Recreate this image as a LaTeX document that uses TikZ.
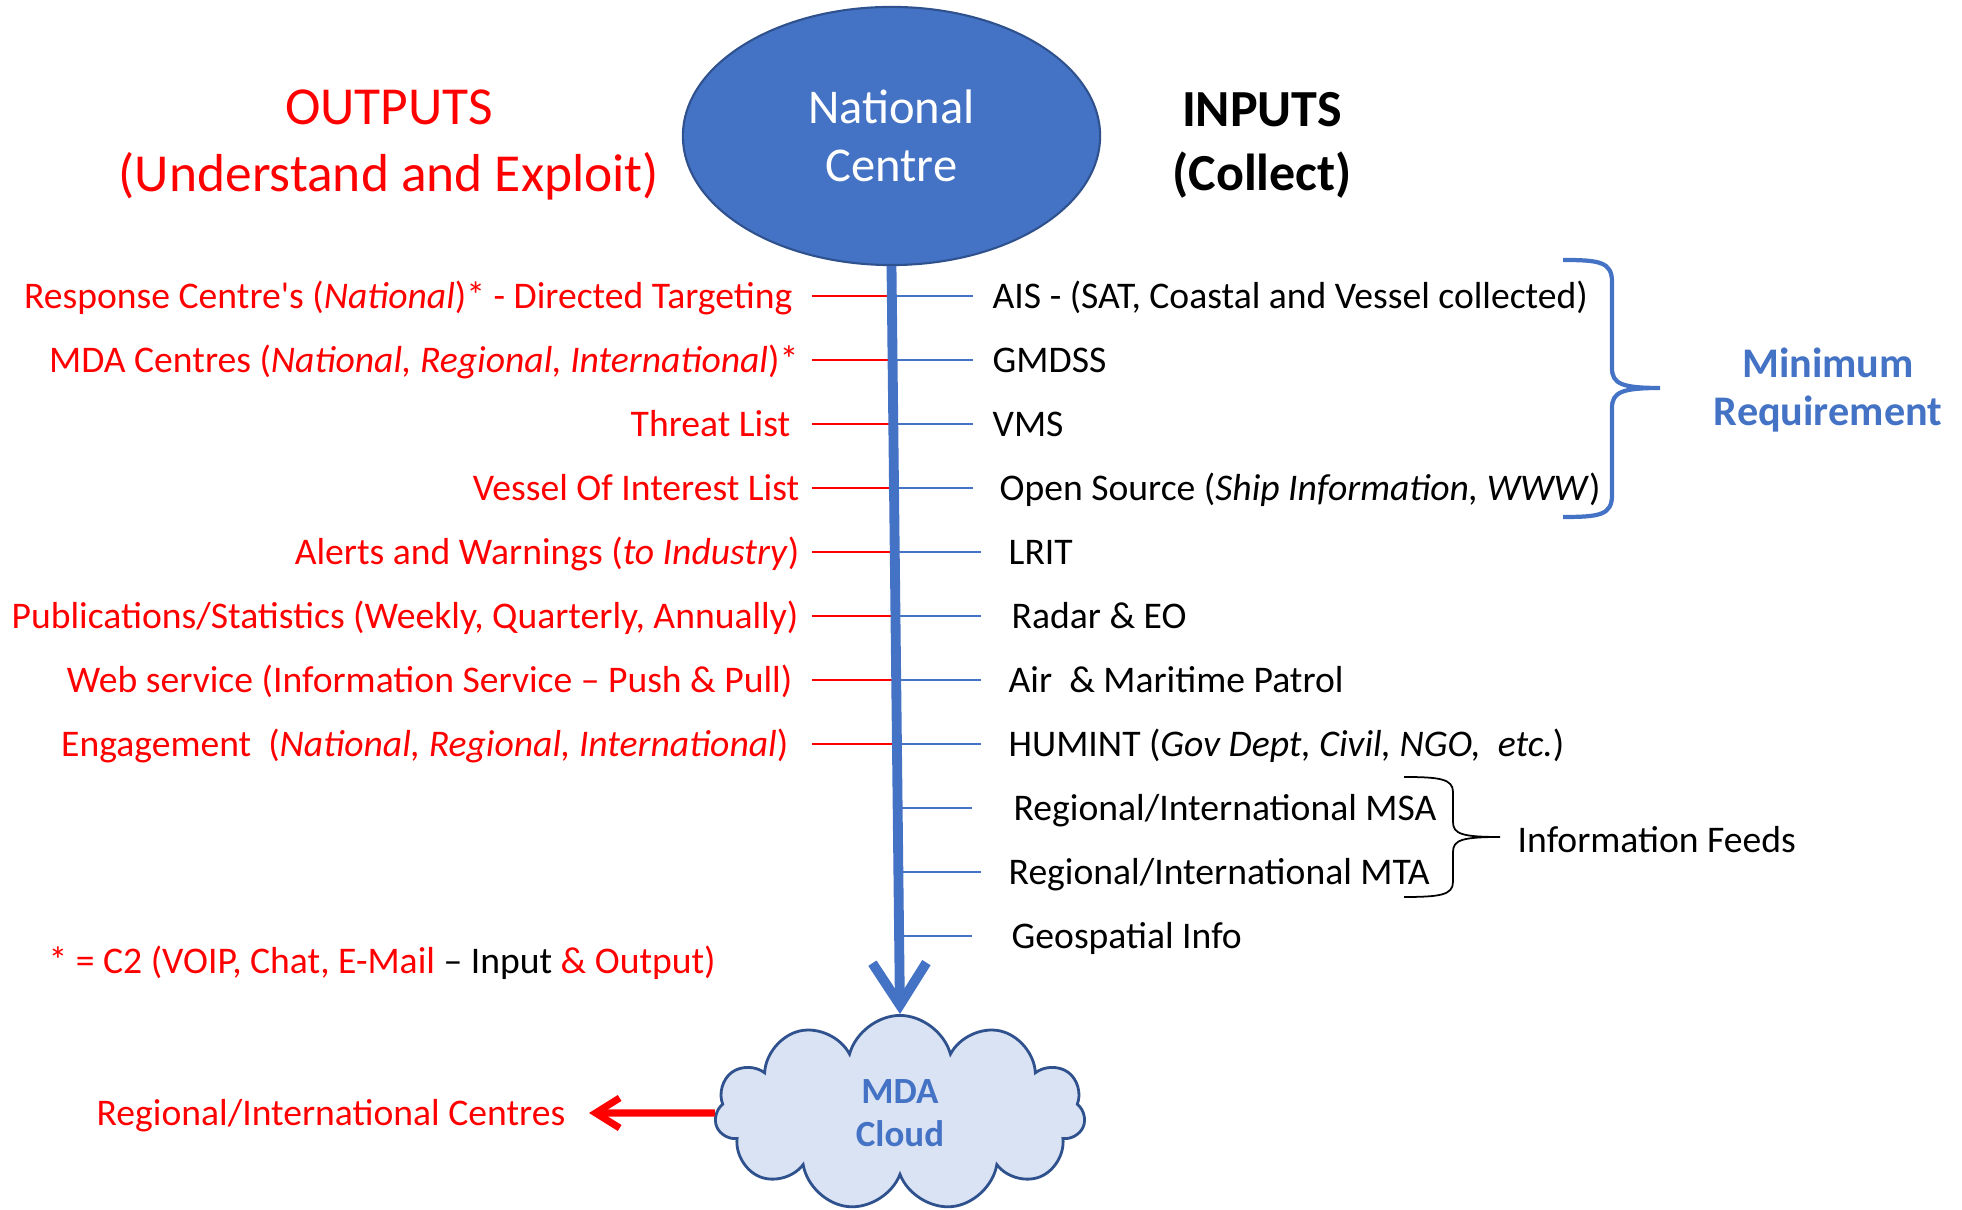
\documentclass[tikz,border=0pt]{standalone}
\usepackage{xcolor}
\usepackage{fontspec}
\setmainfont{Carlito}
\usepackage{tikz}
\usetikzlibrary{shapes.geometric,shapes.symbols,arrows.meta}
\definecolor{mdablue}{HTML}{4472C4}
\definecolor{mdadark}{HTML}{2F528F}
\definecolor{mdared}{HTML}{FF0000}
\definecolor{cloudfill}{HTML}{DAE3F3}

\begin{document}
\begin{tikzpicture}[x=0.01cm, y=-0.01cm,
    listfont/.style={font=\fontsize{10.7}{12.8}\selectfont, inner sep=0pt, text height=0.82em, text depth=0.12em},
    outtxt/.style={listfont, anchor=east, text=mdared},
    intxt/.style={listfont, anchor=west, text=black},
    redtick/.style={mdared, line width=0.5pt},
    bluetick/.style={mdablue, line width=0.6pt},
    shaft/.style={mdablue, line width=2.8pt, -{Straight Barb[length=0.42cm,width=0.54cm]}},
    redarrow/.style={mdared, line width=2pt, -{Straight Barb[length=0.24cm,width=0.3cm]}},
    centre/.style={ellipse, draw=mdadark, fill=mdablue, line width=0.6pt, minimum width=4.17cm, minimum height=2.58cm,
      text=white, align=center, font=\fontsize{13.8}{16.5}\selectfont},
    mdacloud/.style={cloud, cloud puffs=11, cloud ignores aspect, draw=mdadark, fill=cloudfill, line width=0.8pt,
      minimum width=3.7cm, minimum height=1.95cm, text=mdablue, align=center, font=\bfseries\fontsize{10.5}{12.2}\selectfont},
    bigbrace/.style={mdablue, line width=1.2pt},
    smallbrace/.style={black, line width=0.5pt}]
  \useasboundingbox (0,0) rectangle (1962,1210);

  % Headings
  \node[align=center, text=mdared, font=\fontsize{15.2}{18.8}\selectfont] (outputs) at (389,145) {OUTPUTS\\(Understand and Exploit)};
  \node[align=center, font=\bfseries\fontsize{14.8}{18.2}\selectfont] (inputs) at (1262,145) {INPUTS\\(Collect)};
  \node[centre] (nc) at (891.5,136) {National\\Centre};
  \node[mdacloud] (mda) at (900,1113) {MDA\\Cloud};

  % Ticks
  \foreach \y [count=\i] in {296,360,...,744} {
    \coordinate (r\i) at (812,\y);
    \coordinate (s\i) at (896,\y);
    \draw[redtick] (r\i) -- (s\i);
  }
  \foreach \y/\e [count=\i] in {296/973,360/973,424/973,488/973,552/981,616/981,680/981,744/981,808/972,872/981,936/972} {
    \coordinate (b\i) at (896,\y);
    \coordinate (e\i) at (\e,\y);
    \draw[bluetick] (b\i) -- (e\i);
  }
  \draw[shaft] (nc.south) -- (mda.north);

  % Outputs
  \node[outtxt] (out1) at (793,296) {Response Centre\textquotesingle s (\textit{National})* - Directed Targeting};
  \node[outtxt] (out2) at (799,360) {MDA Centres (\textit{National, Regional, International})*};
  \node[outtxt] (out3) at (791,424) {Threat List};
  \node[outtxt] (out4) at (800,488) {Vessel Of Interest List};
  \node[outtxt] (out5) at (800,552) {Alerts and Warnings (\textit{to Industry})};
  \node[outtxt] (out6) at (799,616) {Publications/Statistics (Weekly, Quarterly, Annually)};
  \node[outtxt] (out7) at (793,680) {Web service (Information Service – Push \& Pull)};
  \node[outtxt] (out8) at (789,744) {Engagement\ \ (\textit{National, Regional, International})};

  % Inputs
  \node[intxt] (in1) at (992,296) {AIS - (SAT, Coastal and Vessel collected)};
  \node[intxt] (in2) at (992,360) {GMDSS};
  \node[intxt] (in3) at (992,424) {VMS};
  \node[intxt] (in4) at (999,488) {Open Source (\textit{Ship Information, WWW})};
  \node[intxt] (in5) at (1008,552) {LRIT};
  \node[intxt] (in6) at (1011,616) {Radar \& EO};
  \node[intxt] (in7) at (1008,680) {Air\ \ \& Maritime Patrol};
  \node[intxt] (in8) at (1008,744) {HUMINT (\textit{Gov Dept, Civil, NGO,\ \ etc.})};
  \node[intxt] (in9) at (1013,808) {Regional/International MSA};
  \node[intxt] (in10) at (1008,872) {Regional/International MTA};
  \node[intxt] (in11) at (1011,936) {Geospatial Info};

  % Braces
  \draw[bigbrace] (1563,260) .. controls (1600,260) and (1612,262) .. (1612,282) -- (1612,368)
    .. controls (1612,384) and (1622,388) .. (1660,388) .. controls (1622,388) and (1612,392) .. (1612,408)
    -- (1612,495) .. controls (1612,515) and (1600,517) .. (1563,517);
  \node[text=mdablue, align=center, font=\bfseries\fontsize{12}{13.7}\selectfont] (minreq) at (1828,390) {Minimum\\Requirement};
  \draw[smallbrace] (1404,777) .. controls (1440,777) and (1453,779) .. (1453,792) -- (1453,822)
    .. controls (1453,834) and (1462,837) .. (1500,837) .. controls (1462,837) and (1453,840) .. (1453,852)
    -- (1453,882) .. controls (1453,895) and (1440,897) .. (1404,897);
  \node[intxt] (feeds) at (1517,840) {Information Feeds};

  % Footnote and onward link
  \node[listfont, anchor=west, text=mdared] (note) at (48,961) {* = C2 (VOIP, Chat, E-Mail \textcolor{black}{– Input} \& Output)};
  \node[outtxt] (rc) at (566,1113) {Regional/International Centres};
  \draw[redarrow, shorten >=0.23cm] (mda.west) -- (rc.east);
\end{tikzpicture}
\end{document}
